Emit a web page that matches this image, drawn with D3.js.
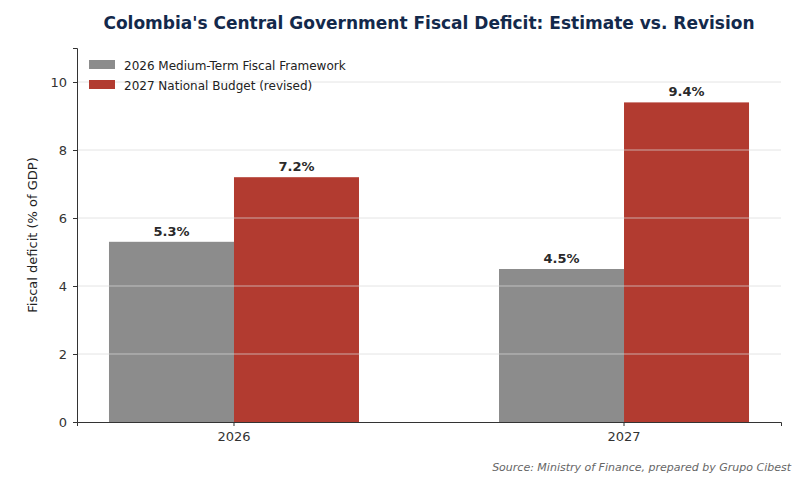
<!DOCTYPE html>
<html>
<head>
<meta charset="utf-8">
<script src="https://cdn.jsdelivr.net/npm/d3@7"></script>
<style>
  body { margin: 0; background: #fff; font-family: "DejaVu Sans", sans-serif; }
</style>
</head>
<body>
<div id="chart"></div>
<script>
// Data
const years = ["2026", "2027"];
const seriesNames = ["2026 Medium-Term Fiscal Framework", "2027 National Budget (revised)"];
const frameworkValues = [5.3, 4.5];
const budgetValues = [7.2, 9.4];
const yTicks = [0, 2, 4, 6, 8, 10];
const colors = ["#8c8c8c", "#b23b30"];

const width = 800, height = 480;
const margin = { top: 48, right: 19, bottom: 58, left: 77 };
const innerW = width - margin.left - margin.right;
const innerH = height - margin.top - margin.bottom;

const svg = d3.select("#chart").append("svg")
    .attr("width", width)
    .attr("height", height);

const g = svg.append("g").attr("transform", `translate(${margin.left},${margin.top})`);

const x = d3.scaleBand().domain(years).range([0, innerW])
    .paddingInner(0.359).paddingOuter(0.082);
const xSub = d3.scaleBand().domain([0, 1]).range([0, x.bandwidth()]);
const y = d3.scaleLinear().domain([0, 11]).range([innerH, 0]);

// bars
const rows = years.map((yr, i) => ({ yr, vals: [frameworkValues[i], budgetValues[i]] }));
const groups = g.selectAll(".grp").data(rows).enter().append("g")
    .attr("transform", d => `translate(${x(d.yr)},0)`);

groups.selectAll("rect")
    .data(d => d.vals.map((v, k) => ({ v, k })))
    .enter().append("rect")
    .attr("x", d => xSub(d.k))
    .attr("width", xSub.bandwidth())
    .attr("y", d => y(d.v))
    .attr("height", d => innerH - y(d.v))
    .attr("fill", d => colors[d.k]);

groups.selectAll(".lbl")
    .data(d => d.vals.map((v, k) => ({ v, k })))
    .enter().append("text")
    .attr("x", d => xSub(d.k) + xSub.bandwidth() / 2)
    .attr("y", d => y(d.v) - 6)
    .attr("text-anchor", "middle")
    .attr("font-size", 13).attr("font-weight", "bold").attr("fill", "#2a2a2a")
    .text(d => d.v.toFixed(1) + "%");

// grid on top of bars
g.selectAll(".grid").data(yTicks.filter(t => t > 0)).enter().append("line")
    .attr("x1", 0).attr("x2", innerW)
    .attr("y1", d => y(d)).attr("y2", d => y(d))
    .attr("stroke", "#d8d8d8").attr("stroke-opacity", 0.7).attr("stroke-width", 1);

// axes
const yAxis = g.append("g").call(d3.axisLeft(y).tickValues(yTicks).tickSize(4).tickPadding(6));
const xAxis = g.append("g").attr("transform", `translate(0,${innerH})`)
    .call(d3.axisBottom(x).tickSize(4).tickPadding(6));
[yAxis, xAxis].forEach(a => {
    a.selectAll("text").attr("font-size", 13).attr("fill", "#333").attr("font-family", "DejaVu Sans, sans-serif");
    a.selectAll("line, path").attr("stroke", "#333");
});

g.append("text")
    .attr("transform", `translate(${-40},${innerH / 2}) rotate(-90)`)
    .attr("text-anchor", "middle").attr("font-size", 13).attr("fill", "#222")
    .text("Fiscal deficit (% of GDP)");

// title
svg.append("text").attr("x", 429).attr("y", 29).attr("text-anchor", "middle")
    .attr("font-size", 17).attr("font-weight", "bold").attr("fill", "#13294b")
    .text("Colombia's Central Government Fiscal Deficit: Estimate vs. Revision");

// legend
const legend = svg.append("g").attr("transform", "translate(89,60)");
seriesNames.forEach((name, i) => {
    const row = legend.append("g").attr("transform", `translate(0,${i * 20})`);
    row.append("rect").attr("width", 26).attr("height", 9).attr("fill", colors[i]);
    row.append("text").attr("x", 35).attr("y", 9.5).attr("font-size", 12).attr("fill", "#222").text(name);
});

// source
svg.append("text").attr("x", 791).attr("y", 471).attr("text-anchor", "end")
    .attr("font-size", 11).attr("font-style", "italic").attr("fill", "#666")
    .text("Source: Ministry of Finance, prepared by Grupo Cibest");
</script>
</body>
</html>
